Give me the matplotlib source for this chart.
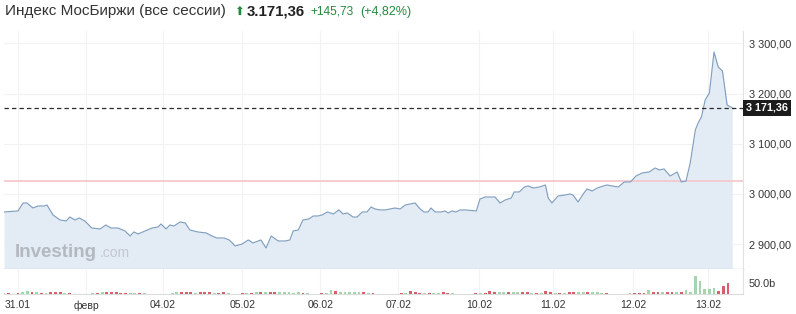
import numpy as np
import matplotlib.pyplot as plt
import matplotlib.transforms as mtransforms

plt.rcParams["font.family"] = ["Liberation Sans", "DejaVu Sans"]

# ---- data ----
# time axis: hourly bar index across the sessions
t = [0, 3.0, 4.1, 4.9, 6.2, 7.3, 8.6, 9.2, 10.5, 12.0,
     13.3, 14.1, 15.2, 16.1, 17.3, 18.8, 20.6, 21.8, 22.9, 24.4,
     25.9, 27.0, 27.8, 28.7, 30.2, 31.7, 33.0, 33.6, 34.7, 35.5,
     36.4, 37.7, 38.8, 39.8, 41.5, 43.3, 44.5, 45.6, 47.1, 48.2,
     49.5, 51.0, 52.3, 53.3, 55.0, 56.1, 57.2, 58.7, 60.2, 61.2,
     61.9, 63.0, 64.0, 65.3, 66.2, 67.2, 68.1, 69.2, 70.5, 71.7,
     72.6, 73.5, 74.7, 75.6, 76.7, 77.7, 78.6, 79.4, 80.5, 81.6,
     82.7, 83.7, 84.8, 85.9, 86.9, 88.0, 89.1, 89.9, 90.8, 91.4,
     92.3, 93.6, 94.4, 95.1, 95.9, 96.8, 97.6, 98.9, 101.1, 101.9,
     103.0, 105.1, 106.2, 107.3, 108.6, 109.2, 110.3, 111.4, 112.2, 113.3,
     114.6, 115.9, 116.5, 117.3, 118.6, 120.1, 121.2, 121.8, 122.9, 124.0,
     124.8, 125.9, 127.0, 128.3, 129.1, 130.2, 131.5, 132.8, 134.1, 135.3,
     136.6, 138.1, 139.4, 140.3, 141.3, 142.6, 144.1, 145.0, 146.0, 146.9,
     148.0, 148.6, 149.3, 150.1, 151.0, 152.0, 152.9, 153.8, 154.8, 155.9]

price = [2964.2, 2966.2, 2982.1, 2982.1, 2972.1, 2976.1, 2976.1, 2978.1, 2958.2, 2948.3,
         2946.3, 2954.2, 2948.3, 2952.2, 2946.3, 2932.3, 2930.4, 2938.3, 2932.3, 2932.3,
         2926.4, 2916.4, 2924.4, 2920.4, 2926.4, 2932.3, 2934.3, 2940.3, 2930.4, 2938.3,
         2936.3, 2944.3, 2942.3, 2928.4, 2924.4, 2922.4, 2916.4, 2912.4, 2912.4, 2908.5,
         2896.5, 2900.5, 2908.5, 2902.5, 2908.5, 2892.5, 2916.4, 2906.5, 2906.5, 2908.5,
         2926.4, 2928.4, 2948.3, 2950.3, 2956.2, 2956.2, 2958.2, 2964.2, 2960.2, 2968.2,
         2960.2, 2962.2, 2954.2, 2954.2, 2964.2, 2964.2, 2974.1, 2970.2, 2968.2, 2968.2,
         2970.2, 2972.1, 2970.2, 2978.1, 2980.1, 2982.1, 2970.2, 2964.2, 2964.2, 2972.1,
         2964.2, 2964.2, 2966.2, 2962.2, 2966.2, 2964.2, 2968.2, 2968.2, 2966.2, 2990.0,
         2994.0, 2994.0, 2982.1, 2988.1, 2992.0, 3004.0, 3004.0, 3013.9, 3015.9, 3011.9,
         3013.9, 3017.9, 2992.0, 2982.1, 2996.0, 2998.0, 3000.0, 2998.0, 2984.1, 3000.0,
         3010.0, 3006.0, 3011.9, 3015.9, 3017.9, 3015.9, 3013.9, 3023.9, 3023.9, 3035.8,
         3041.8, 3043.8, 3051.7, 3047.8, 3049.8, 3035.8, 3043.8, 3023.9, 3025.9, 3061.7,
         3127.4, 3141.3, 3153.2, 3187.1, 3201.0, 3282.6, 3252.7, 3244.8, 3177.1, 3171.36]

last_price = 3171.36
prev_close = 3025.63
change = 145.73
change_pct = 4.82

# hourly volume, billions, and bar direction (1 up / -1 down)
volume = [3, 3, 2, 3, 9, 14, 11, 7, 4, 4,
          9, 11, 9, 4, 3, 2, 2, 2, 2, 3,
          3, 9, 9, 9, 7, 5, 5, 3, 4, 3,
          3, 2, 2, 2, 2, 2, 3, 7, 7, 7,
          7, 4, 7, 7, 7, 3, 3, 7, 3, 2,
          2, 3, 3, 3, 9, 11, 11, 9, 7, 7,
          7, 7, 4, 11, 3, 3, 2, 2, 3, 3,
          20, 14, 7, 7, 7, 7, 9, 7, 3, 3,
          2, 2, 2, 2, 2, 3, 3, 12, 7, 5,
          3, 3, 3, 5, 7, 5, 3, 2, 2, 2,
          2, 3, 3, 3, 15, 7, 7, 7, 7, 7,
          7, 7, 7, 3, 3, 3, 15, 7, 3, 3,
          3, 11, 7, 9, 9, 7, 7, 7, 5, 3,
          2, 2, 2, 2, 3, 3, 3, 5, 20, 11,
          11, 7, 11, 9, 9, 11, 18, 7, 80, 60,
          23, 23, 25, 15, 38, 52]
direction = [1, -1, 1, -1, 1, 1, -1, 1, -1, 1,
             -1, -1, -1, 1, -1, 1, -1, 1, -1, 1,
             -1, 1, -1, -1, -1, -1, -1, 1, 1, -1,
             1, -1, 1, -1, 1, -1, 1, 1, -1, -1,
             -1, 1, -1, -1, -1, 1, -1, -1, 1, -1,
             1, -1, 1, -1, 1, -1, 1, -1, -1, 1,
             1, 1, 1, 1, -1, 1, -1, 1, -1, 1,
             1, -1, 1, 1, 1, 1, 1, -1, 1, -1,
             1, -1, 1, -1, 1, -1, 1, -1, -1, -1,
             1, -1, 1, 1, -1, -1, 1, -1, 1, -1,
             1, -1, 1, -1, -1, -1, 1, 1, -1, 1,
             1, -1, -1, 1, -1, 1, -1, -1, 1, -1,
             1, -1, -1, 1, 1, -1, 1, 1, 1, -1,
             1, -1, 1, -1, 1, -1, -1, -1, 1, -1,
             -1, 1, -1, -1, 1, -1, 1, 1, 1, 1,
             1, 1, 1, -1, -1, -1]

day_ticks = [3.0, 17.6, 34.0, 51.0, 67.7, 84.4, 101.7, 117.6, 134.7, 150.8]
day_labels = ["31.01", "февр", "04.02", "05.02", "06.02", "07.02",
              "10.02", "11.02", "12.02", "13.02"]
price_ticks = [2900, 3000, 3100, 3200, 3300]
vol_ticks = [50]


def ru(v):
    s = f"{v:,.2f}"
    return s.replace(",", " ").replace(".", ",")


# ---- layout ----
W, H = 796, 314


def frac(x0, y0, x1, y1):
    return [x0 / W, 1 - y1 / H, (x1 - x0) / W, (y1 - y0) / H]


fig = plt.figure(figsize=(W / 100, H / 100), dpi=100)
fig.patch.set_facecolor("white")

ax = fig.add_axes(frac(4, 31, 743, 269))
axv = fig.add_axes(frac(4, 269, 743, 294), sharex=ax)

grid_c = "#f2f2f2"
txt_c = "#333333"

# price pane
ax.fill_between(t, price, 2800, color="#e3ecf5", lw=0, zorder=2)
ax.plot(t, price, color="#819fc0", lw=0.85, zorder=3)
ax.axhline(prev_close, color="#f3c5c8", lw=1.2, zorder=2.5)
ax.axhline(last_price, color="#2b2b2b", lw=0.9, ls=(0, (3.5, 2.5)), zorder=4)

ax.set_xlim(0, 158.2)
ax.set_ylim(2850.7, 3324.4)
ax.set_yticks(price_ticks)
ax.set_yticklabels([ru(v) for v in price_ticks])
ax.yaxis.tick_right()
ax.tick_params(axis="y", length=0, pad=4, labelsize=7.8, labelcolor=txt_c)
ax.tick_params(axis="x", length=0, labelbottom=False)
ax.set_xticks(day_ticks)
ax.grid(True, color=grid_c, lw=0.8, zorder=0)
for s in ["top", "left"]:
    ax.spines[s].set_visible(False)
ax.spines["right"].set_color("#e2e2e2")
ax.spines["bottom"].set_color("#c4c4c4")
ax.spines["bottom"].set_linewidth(0.9)

# last price tag
tr = mtransforms.blended_transform_factory(ax.transAxes, ax.transData)
ax.text(1.004, last_price, ru(last_price), transform=tr, ha="left", va="center",
        color="white", fontsize=7.8, fontweight="bold", zorder=6,
        bbox=dict(boxstyle="square,pad=0.28", facecolor="#1c1c1c", edgecolor="none"),
        clip_on=False)

# volume pane
vol_colors = ["#a3d6ac" if d > 0 else "#d6606a" for d in direction]
axv.bar(np.arange(len(volume)), volume, width=0.62, color=vol_colors, lw=0, zorder=3)
axv.set_ylim(0, 113.6)
axv.set_yticks(vol_ticks)
axv.set_yticklabels([f"{v:.1f}b" for v in vol_ticks])
axv.yaxis.tick_right()
axv.tick_params(axis="y", length=0, pad=4, labelsize=7.8, labelcolor=txt_c)
axv.set_xticks(day_ticks)
axv.set_xticklabels(day_labels)
axv.tick_params(axis="x", length=0, pad=4.5, labelsize=7.5, labelcolor=txt_c)
axv.grid(True, axis="x", color=grid_c, lw=0.8, zorder=0)
for s in ["top", "left"]:
    axv.spines[s].set_visible(False)
axv.spines["right"].set_color("#e2e2e2")
axv.spines["bottom"].set_color("#dcdcdc")


# header
def fx(x):
    return x / W


def fy(y):
    return 1 - y / H


green = "#23893c"
fig.text(fx(5), fy(15), "Индекс МосБиржи (все сессии)", fontsize=11,
         color=txt_c, va="baseline")
fig.text(fx(234), fy(15), "⬆", fontsize=8.5, color=green, va="baseline",
         family=["DejaVu Sans"])
fig.text(fx(247), fy(15), "3.171,36", fontsize=10.8, fontweight="bold",
         color="#222222", va="baseline")
fig.text(fx(310), fy(15), f"+{change:.2f}".replace(".", ","), fontsize=8.6,
         color=green, va="baseline")
fig.text(fx(360), fy(15), f"(+{change_pct:.2f}%)".replace(".", ","), fontsize=9,
         color=green, va="baseline")

# watermark
fig.text(fx(15), fy(257), "Investing", fontsize=13.5, fontweight="bold",
         color="#b4b9bf", va="baseline", zorder=5)
fig.text(fx(100), fy(257), ".com", fontsize=10, color="#c3c8ce",
         va="baseline", zorder=5)

fig.savefig("out.png", dpi=100)
